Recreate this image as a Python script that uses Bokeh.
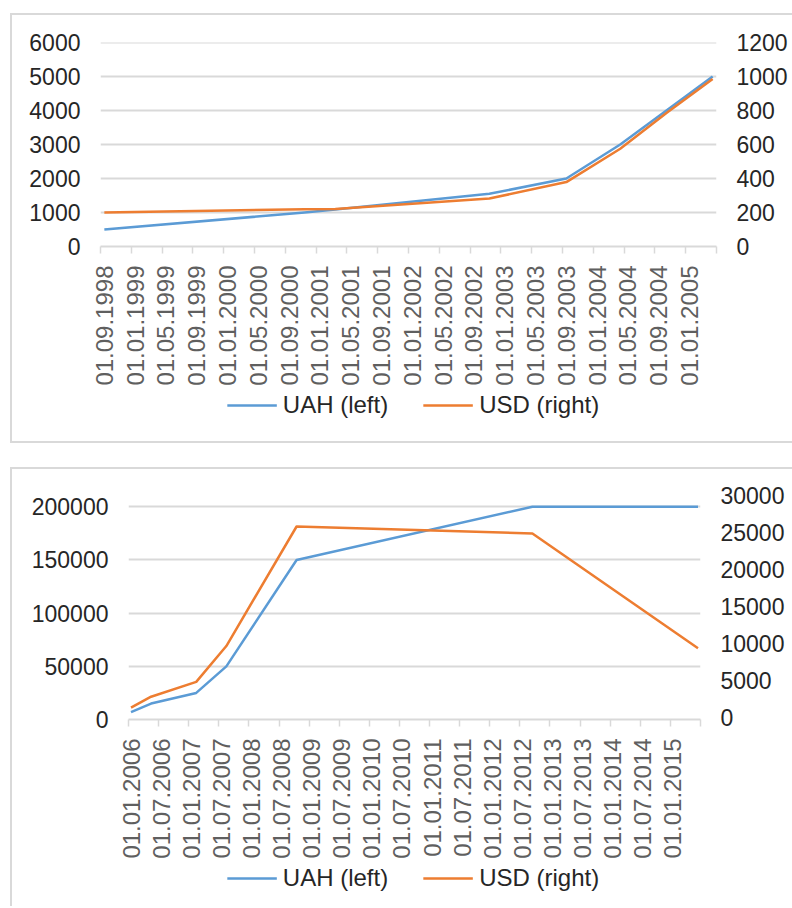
import math

from bokeh.embed import file_html
from bokeh.layouts import column, row
from bokeh.models import FixedTicker, Legend, LegendItem, LinearAxis, Range1d, Spacer
from bokeh.plotting import figure
from bokeh.resources import INLINE

# ---- data: 1998-2005 -------------------------------------------------------
top_dates = ["1998-09", "2000-11", "2001-03", "2002-11", "2003-09", "2004-04", "2004-10", "2005-04"]
top_uah = [500, 1000, 1090, 1550, 2000, 3000, 4000, 5000]
top_usd = [200, 219, 220, 282, 379, 575, 785, 985]
top_tick_labels = [
    "01.09.1998", "01.01.1999", "01.05.1999", "01.09.1999", "01.01.2000",
    "01.05.2000", "01.09.2000", "01.01.2001", "01.05.2001", "01.09.2001",
    "01.01.2002", "01.05.2002", "01.09.2002", "01.01.2003", "01.05.2003",
    "01.09.2003", "01.01.2004", "01.05.2004", "01.09.2004", "01.01.2005",
]
top_uah_ticks = [0, 1000, 2000, 3000, 4000, 5000, 6000]
top_usd_ticks = [0, 200, 400, 600, 800, 1000, 1200]

# ---- data: 2006-2015 -------------------------------------------------------
bottom_dates = ["2006-01", "2006-05", "2007-02", "2007-08", "2008-10", "2012-09", "2015-06"]
bottom_uah = [7000, 15000, 25000, 50000, 150000, 200000, 200000]
bottom_usd = [1380, 2850, 4850, 9700, 25850, 24900, 9400]
bottom_tick_labels = [
    "01.01.2006", "01.07.2006", "01.01.2007", "01.07.2007", "01.01.2008",
    "01.07.2008", "01.01.2009", "01.07.2009", "01.01.2010", "01.07.2010",
    "01.01.2011", "01.07.2011", "01.01.2012", "01.07.2012", "01.01.2013",
    "01.07.2013", "01.01.2014", "01.07.2014", "01.01.2015",
]
bottom_uah_ticks = [0, 50000, 100000, 150000, 200000]
bottom_usd_ticks = [0, 5000, 10000, 15000, 20000, 25000, 30000]

series_names = ["UAH (left)", "USD (right)"]

BLUE = "#5B9BD5"
ORANGE = "#ED7D31"
GRID = "#D9D9D9"
FONT = "Liberation Sans"


def ym(text):
    """'YYYY-MM' -> absolute month number."""
    y, m = text.split("-")
    return int(y) * 12 + int(m) - 1


def label_month(label):
    """'DD.MM.YYYY' -> absolute month number."""
    _, m, y = label.split(".")
    return int(y) * 12 + int(m) - 1


def month_x(dates, tick_labels):
    # one month = 2 units; points sit in the middle of their month slot
    origin = label_month(tick_labels[0])
    return [2 * (ym(d) - origin) + 1 for d in dates]


def make_chart(dates, uah, usd, tick_labels, period, uah_ticks, usd_ticks,
               uah_end, usd_range, frame_w, frame_h, borders):
    origin = label_month(tick_labels[0])
    n_months = period * len(tick_labels)
    xs = month_x(dates, tick_labels)
    label_pos = [2 * (label_month(t) - origin) + 1 for t in tick_labels]
    bounds = [2 * (label_month(t) - origin) for t in tick_labels] + [2 * n_months]

    left, right, top, bottom = borders
    p = figure(frame_width=frame_w, frame_height=frame_h,
               output_backend="svg", toolbar_location=None,
               x_range=Range1d(0, 2 * n_months), y_range=Range1d(0, uah_end),
               min_border_left=left, min_border_right=right,
               min_border_top=top, min_border_bottom=bottom,
               outline_line_color=None, background_fill_color="white",
               border_fill_color="white")
    p.extra_y_ranges = {"usd": Range1d(*usd_range)}

    # date axis: labels in the first month of each period, ticks on the period edges
    xa = p.xaxis[0]
    xa.ticker = FixedTicker(ticks=label_pos, minor_ticks=bounds)
    xa.major_label_overrides = {pos: lab for pos, lab in zip(label_pos, tick_labels)}
    xa.major_label_orientation = math.pi / 2
    xa.major_label_standoff = 12
    xa.major_label_text_font = FONT
    xa.major_label_text_font_size = "24px"
    xa.major_label_text_color = "#5f5f5f"
    xa.major_tick_line_color = None
    xa.major_tick_out = 7
    xa.major_tick_in = 0
    xa.minor_tick_line_color = GRID
    xa.minor_tick_line_width = 1.5
    xa.minor_tick_out = 7
    xa.minor_tick_in = 0
    xa.axis_line_color = GRID
    xa.axis_line_width = 2

    # left value axis (UAH)
    ya = p.yaxis[0]
    ya.ticker = FixedTicker(ticks=uah_ticks)
    ya.major_label_overrides = {t: str(t) for t in uah_ticks}

    # right value axis (USD)
    yr = LinearAxis(y_range_name="usd", ticker=FixedTicker(ticks=usd_ticks))
    yr.major_label_overrides = {t: str(t) for t in usd_ticks}
    p.add_layout(yr, "right")

    for ax in (ya, yr):
        ax.axis_line_color = None
        ax.major_tick_line_color = None
        ax.minor_tick_line_color = None
        ax.major_tick_out = 0
        ax.major_tick_in = 0
        ax.major_label_standoff = 20
        ax.major_label_text_font = FONT
        ax.major_label_text_font_size = "23px"
        ax.major_label_text_color = "#262626"

    p.xgrid.grid_line_color = None
    p.ygrid.ticker = FixedTicker(ticks=uah_ticks)
    p.ygrid.grid_line_color = GRID
    p.ygrid.grid_line_width = 2

    p.line(xs, uah, line_color=BLUE, line_width=2.5, line_join="round")
    p.line(xs, usd, y_range_name="usd", line_color=ORANGE, line_width=2.5,
           line_join="round")
    return p


def make_legend(dates, uah, usd, tick_labels, width, height):
    """Horizontal key strip placed under a chart (series kept outside its view)."""
    xs = month_x(dates, tick_labels)
    lf = figure(width=width, height=height, output_backend="svg", toolbar_location=None,
                x_axis_type=None, y_axis_type=None, x_range=Range1d(0, 1),
                y_range=Range1d(-2, -1), min_border=0, outline_line_color=None,
                background_fill_color="white", border_fill_color="white")
    lf.grid.visible = False
    keys = [lf.line(xs, vals, line_color=c, line_width=2.5)
            for vals, c in ((uah, BLUE), (usd, ORANGE))]
    legend = Legend(items=[LegendItem(label=n, renderers=[r])
                           for n, r in zip(series_names, keys)],
                    orientation="horizontal", location="center",
                    border_line_color=None, background_fill_alpha=0,
                    glyph_width=50, glyph_height=20, label_standoff=6, spacing=35,
                    margin=0, padding=0,
                    label_text_font=FONT, label_text_font_size="24px",
                    label_text_color="#262626")
    lf.add_layout(legend)
    return lf


def rule(w, h):
    """Thin grey frame edge around a chart box."""
    return Spacer(width=w, height=h, styles={"background-color": GRID})


def key_row(lf):
    return row(Spacer(width=209, height=30), lf, Spacer(width=187, height=30))


p_top = make_chart(top_dates, top_uah, top_usd, top_tick_labels, 4,
                   top_uah_ticks, top_usd_ticks, 6001, (0, 1200.2),
                   616, 204, (88, 76, 27, 144))
key_top = make_legend(top_dates, top_uah, top_usd, top_tick_labels, 384, 30)

p_bottom = make_chart(bottom_dates, bottom_uah, bottom_usd, bottom_tick_labels, 6,
                      bottom_uah_ticks, bottom_usd_ticks, 210600, (-230, 30040),
                      572, 224, (116, 92, 26, 144))
key_bottom = make_legend(bottom_dates, bottom_uah, bottom_usd, bottom_tick_labels, 384, 30)

layout = column(
    Spacer(width=792, height=13),
    row(Spacer(width=10, height=430), rule(2, 430),
        column(rule(780, 2), p_top, key_row(key_top), Spacer(width=780, height=21),
               rule(780, 2))),
    Spacer(width=792, height=24),
    row(Spacer(width=10, height=439), rule(2, 439),
        column(rule(780, 2), p_bottom, key_row(key_bottom))),
)
open("out.html", "w").write(file_html(layout, INLINE))
